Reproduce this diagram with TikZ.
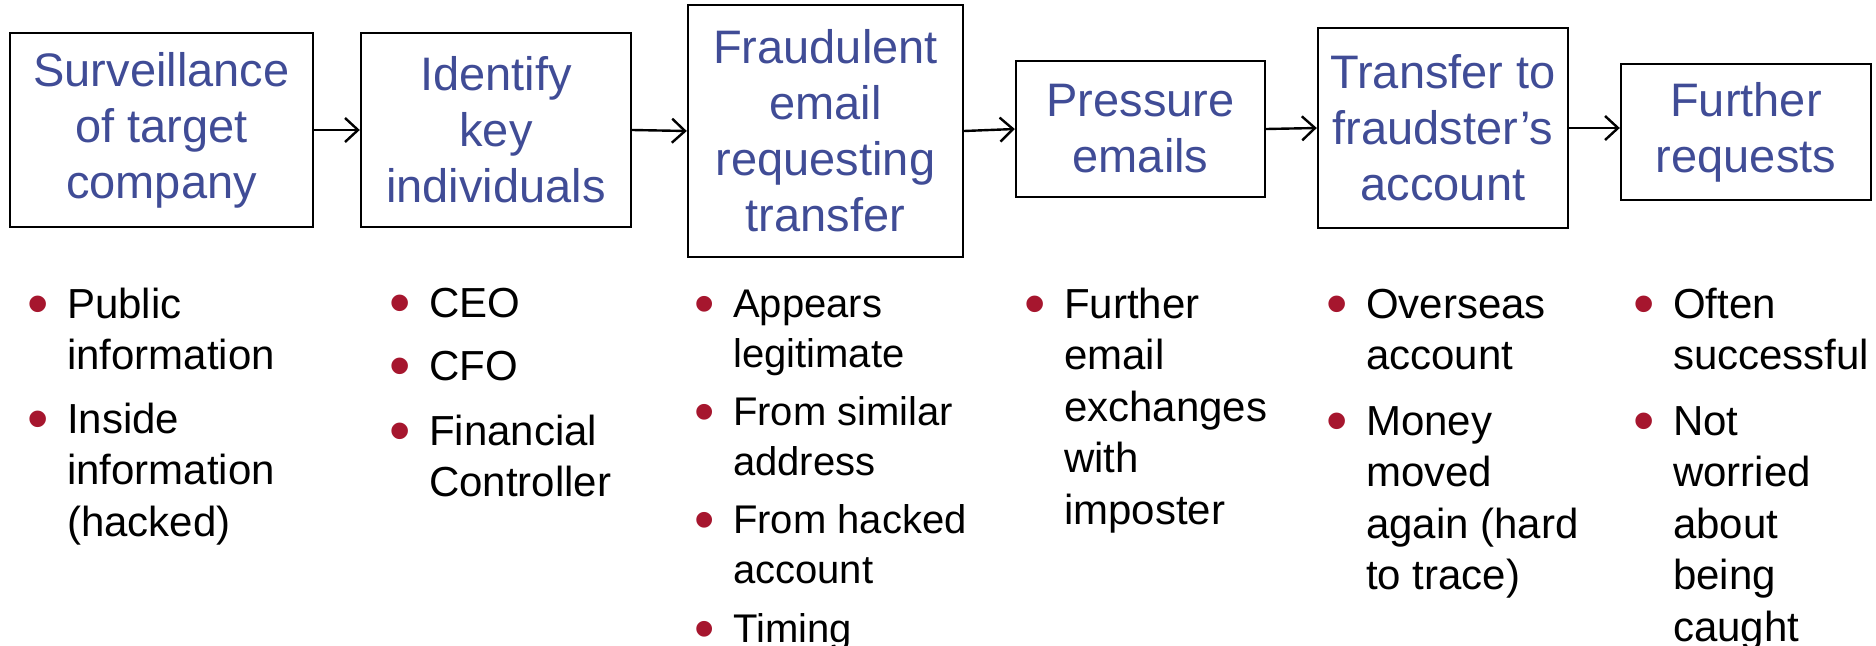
\documentclass[tikz,border=0pt]{standalone}
\usepackage{fontspec}
\setmainfont{Liberation Sans}
\usetikzlibrary{arrows.meta}
\definecolor{boxblue}{RGB}{64,76,150}
\definecolor{bred}{RGB}{166,22,46}
\tikzset{
  stepbox/.style={draw=black, line width=2.4pt, align=center, inner sep=0pt,
    text=boxblue, font=\fontsize{47}{56}\selectfont},
  flow/.style={line width=2.4pt, -{Straight Barb[length=13pt,width=24pt,line width=2.4pt]}},
  item/.style={anchor=base west, inner sep=0pt, text=black, font=\fontsize{42}{51.5}\selectfont},
  itemc/.style={anchor=base west, inner sep=0pt, text=black, font=\fontsize{40}{50}\selectfont}
}
\newcommand{\bul}[2]{\parbox[t]{#1}{\raggedright\leavevmode\llap{\textcolor{bred}{\raisebox{-6pt}{\scalebox{1.45}{\textbullet}}}\hspace{18pt}}#2}}
\begin{document}
\begin{tikzpicture}[x=1pt,y=-1pt]
\useasboundingbox (0,0) rectangle (1876,645);
% boxes
\node[stepbox, minimum width=303pt, minimum height=194pt] (b1) at (161.5,130) {Surveillance\\of target\\company};
\node[stepbox, minimum width=270pt, minimum height=194pt] (b2) at (496,130) {Identify\\key\\individuals};
\node[stepbox, minimum width=275pt, minimum height=252pt] (b3) at (825.5,131) {Fraudulent\\email\\requesting\\transfer};
\node[stepbox, minimum width=249pt, minimum height=136pt] (b4) at (1140.5,129) {Pressure\\emails};
\node[stepbox, minimum width=250pt, minimum height=200pt] (b5) at (1443,128) {Transfer to\\fraudster’s\\account};
\node[stepbox, minimum width=250pt, minimum height=136pt] (b6) at (1746,132) {Further\\requests};
% connectors
\draw[flow] (b1) -- (b2);
\draw[flow] (b2.east) -- (b3.west);
\draw[flow] (b3.east) -- (b4.west);
\draw[flow] (b4.east) -- (b5.west);
\draw[flow] (b5.east) -- (b5.east -| b6.west);
% column 1
\node[item] (c1a) at (67,318) {\bul{240pt}{Public\\information}};
\node[item] (c1b) at (67,433) {\bul{240pt}{Inside\\information\\(hacked)}};
% column 2
\node[item] (c2a) at (429,317) {\bul{240pt}{CEO}};
\node[item] (c2b) at (429,380) {\bul{240pt}{CFO}};
\node[item] (c2c) at (429,445) {\bul{240pt}{Financial\\Controller}};
% column 3
\node[itemc] (c3a) at (733,317) {\bul{260pt}{Appears\\legitimate}};
\node[itemc] (c3b) at (733,425) {\bul{260pt}{From similar\\address}};
\node[itemc] (c3c) at (733,533) {\bul{260pt}{From hacked\\account}};
\node[itemc] (c3d) at (733,642) {\bul{260pt}{Timing}};
% column 4
\node[item] (c4a) at (1064,318) {\bul{240pt}{Further\\email\\exchanges\\with\\imposter}};
% column 5
\node[item] (c5a) at (1366,318) {\bul{240pt}{Overseas\\account}};
\node[item] (c5b) at (1366,435) {\bul{240pt}{Money\\moved\\again (hard\\to trace)}};
% column 6
\node[item] (c6a) at (1673,318) {\bul{240pt}{Often\\successful}};
\node[item] (c6b) at (1673,435) {\bul{240pt}{Not\\worried\\about\\being\\caught}};
\end{tikzpicture}
\end{document}
